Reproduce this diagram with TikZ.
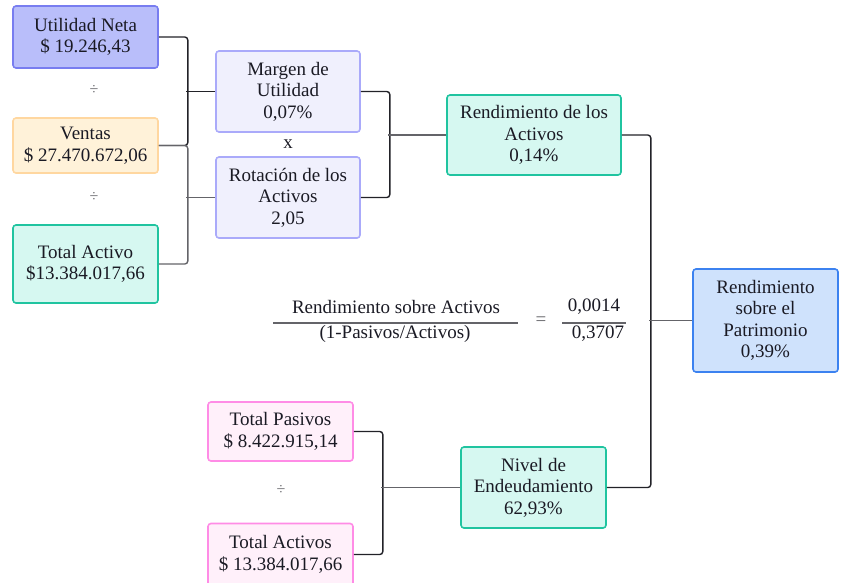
\documentclass[tikz,border=0pt]{standalone}
\usepackage{fontspec}
\setmainfont{Liberation Serif}
\definecolor{txt}{RGB}{26,26,36}
\definecolor{fUN}{RGB}{185,190,250}\definecolor{dUN}{RGB}{120,125,240}
\definecolor{fVE}{RGB}{255,242,217}\definecolor{dVE}{RGB}{255,215,160}
\definecolor{fTE}{RGB}{214,248,241}\definecolor{dTE}{RGB}{32,196,160}
\definecolor{fLV}{RGB}{240,240,253}\definecolor{dLV}{RGB}{170,170,250}
\definecolor{fBL}{RGB}{207,226,252}\definecolor{dBL}{RGB}{60,130,240}
\definecolor{fPK}{RGB}{255,240,250}\definecolor{dPK}{RGB}{255,140,230}
\definecolor{lnD}{RGB}{34,34,40}\definecolor{lnG}{RGB}{100,100,105}
\tikzset{
  box/.style={draw, line width=1.6pt, rounded corners=3pt, align=center, text=txt,
    font=\fontsize{19}{21.5}\selectfont, inner sep=0pt},
  bracketD/.style={draw=lnD, line width=1.4pt, rounded corners=3pt},
  bracketG/.style={draw=lnG, line width=1.4pt, rounded corners=3pt},
  stem/.style={draw=lnG, line width=1.4pt},
  stemD/.style={draw=lnD, line width=1.4pt},
  optxt/.style={text=lnG, font=\fontsize{16}{18}\selectfont},
  ftxt/.style={text=txt, font=\fontsize{19}{21.5}\selectfont, inner sep=0pt},
  fline/.style={draw=lnG, line width=1.8pt}
}
\begin{document}
\begin{tikzpicture}[x=1pt,y=-1pt]
\useasboundingbox (0,0) rectangle (841,582);
% nodes
\node[box, fill=fUN, draw=dUN, minimum width=145, minimum height=62] (UN) at (85.5,37) {Utilidad Neta\\\$ 19.246,43};
\node[box, fill=fVE, draw=dVE, minimum width=145, minimum height=55] (VE) at (85.5,145.5) {Ventas\\\$ 27.470.672,06};
\node[box, fill=fTE, draw=dTE, minimum width=145, minimum height=78] (TA) at (85.5,264) {Total Activo\\\$13.384.017,66};
\node[box, fill=fLV, draw=dLV, minimum width=144, minimum height=81] (MU) at (288,91.5) {Margen de\\Utilidad\\0,07\%};
\node[box, fill=fLV, draw=dLV, minimum width=144, minimum height=81] (RO) at (288,197.5) {Rotación de los\\Activos\\2,05};
\node[box, fill=fTE, draw=dTE, minimum width=174, minimum height=80] (RA) at (534,135) {Rendimiento de los\\Activos\\0,14\%};
\node[box, fill=fBL, draw=dBL, minimum width=145, minimum height=103] (RP) at (765.5,320.5) {Rendimiento\\sobre el\\Patrimonio\\0,39\%};
\node[box, fill=fPK, draw=dPK, minimum width=145, minimum height=59] (TP) at (280.5,431.5) {Total Pasivos\\\$ 8.422.915,14};
\node[box, fill=fPK, draw=dPK, minimum width=145, minimum height=62] (TS) at (280.5,554.5) {Total Activos\\\$ 13.384.017,66};
\node[box, fill=fTE, draw=dTE, minimum width=145, minimum height=81] (NE) at (533.5,487.5) {Nivel de\\Endeudamiento\\62,93\%};
% operators
\node[optxt] (d1) at (94,90) {÷};
\node[optxt] (d2) at (94,197) {÷};
\node[optxt] (d3) at (281,490) {÷};
\node[ftxt] (x1) at (288,144) {x};
% connectors
\draw[bracketD] (UN.east) -- ++(29,0) |- (VE.east);
\draw[stemD] (MU.west) -- ++(-29,0);
\draw[bracketG] (VE.east) -- ++(29,0) |- (TA.east);
\draw[stem] (RO.west) -- ++(-29,0);
\draw[bracketD] (MU.east) -- ++(29,0) |- (RO.east);
\draw[stem] (RA.west) -- ++(-58,0);
\draw[bracketD] (RA.east) -- ++(29,0) |- (NE.east);
\draw[stem] (RP.west) -- ++(-43,0);
\draw[bracketD] (TP.east) -- ++(29,0) |- (TS.east);
\draw[stem] (NE.west) -- ++(-79,0);
% fraction
\node[ftxt] (fn) at (396,307) {Rendimiento sobre Activos};
\node[ftxt] (fd) at (395,334) {(1-Pasivos/Activos)};
\node[ftxt, text=lnG] (eq) at (541,321) {=};
\node[ftxt] (vn) at (594,307) {0,0014};
\node[ftxt] (vd) at (598,334) {0,3707};
\coordinate (fl1) at (273,323); \coordinate (fl2) at (518,323);
\coordinate (vl1) at (562,323); \coordinate (vl2) at (626,323);
\draw[fline] (fl1) -- (fl2);
\draw[fline] (vl1) -- (vl2);
\end{tikzpicture}
\end{document}
